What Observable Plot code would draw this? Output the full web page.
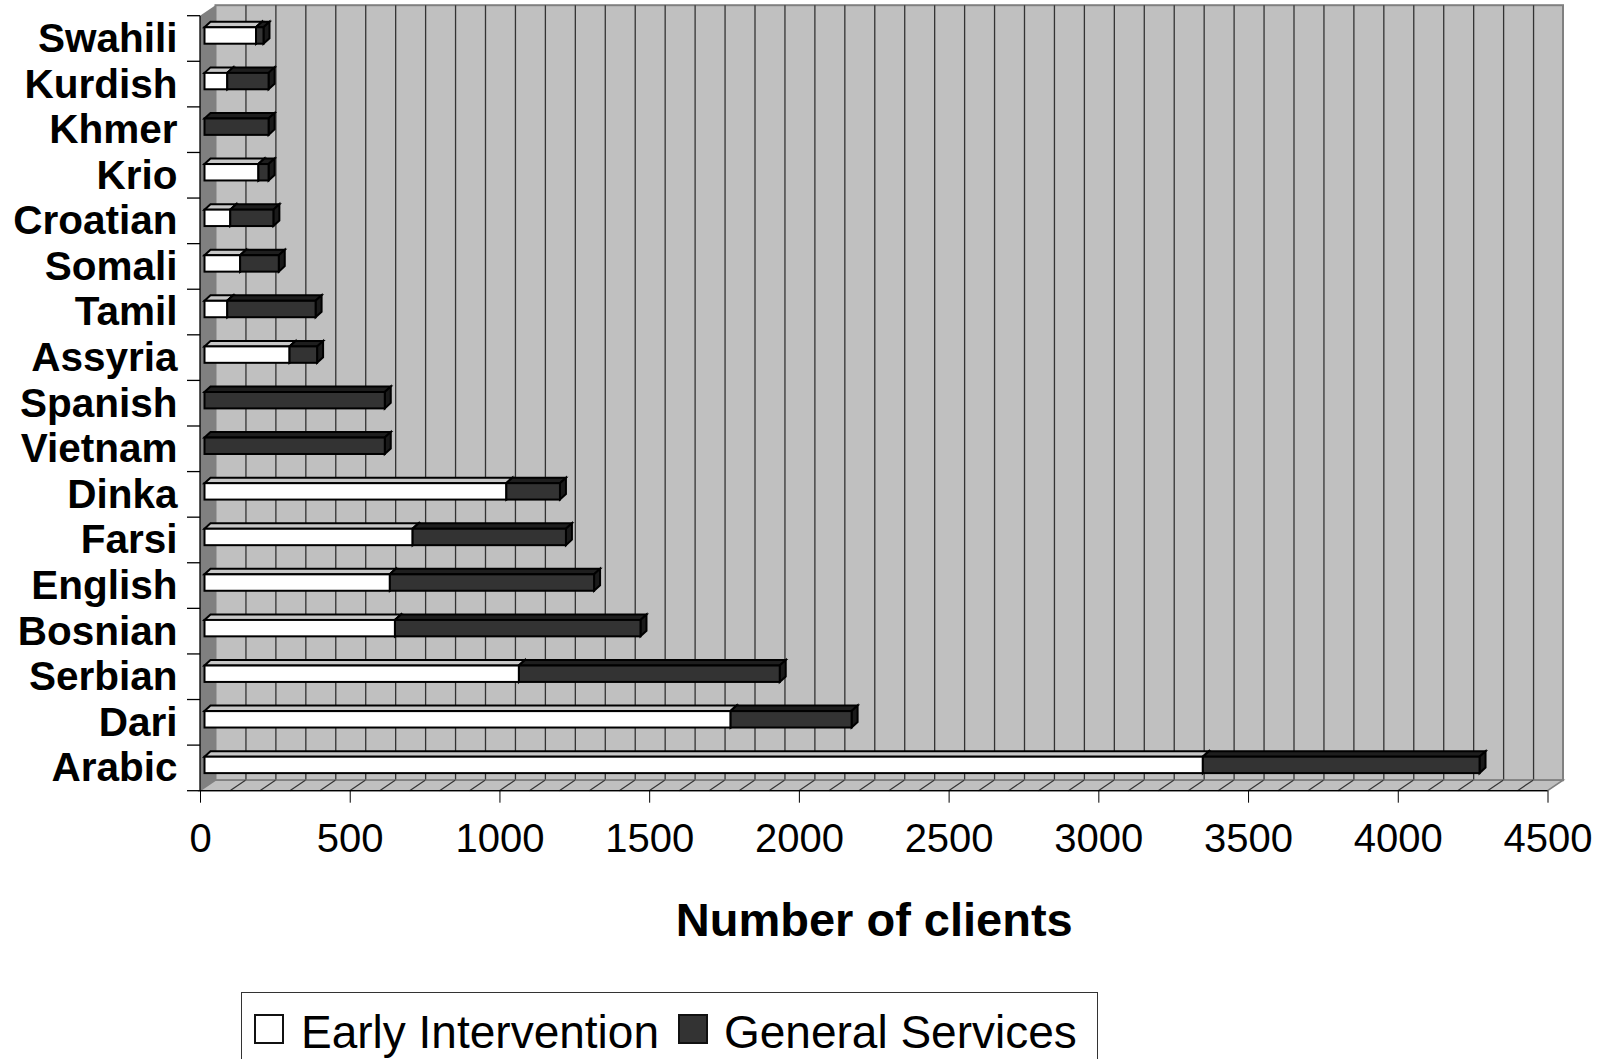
<!DOCTYPE html>
<html>
<head>
<meta charset="utf-8">
<script src="https://cdn.jsdelivr.net/npm/d3@7"></script>
<script src="https://cdn.jsdelivr.net/npm/@observablehq/plot@0.6"></script>
<style>
  html, body { margin: 0; padding: 0; overflow: hidden; background: #fff; }
  body { width: 1608px; height: 1059px; font-family: "Liberation Sans", Arial, sans-serif; }
  #chart svg { display: block; }
  #legend {
    margin-left: 241px; margin-top: 2px; width: 843px; height: 77px;
    border: 1.5px solid #333; display: flex; align-items: center;
    padding-left: 12px; box-sizing: content-box; font-size: 46px; color: #000;
    white-space: nowrap; line-height: 46px;
  }
  #legend .sw { display: inline-block; flex: none; width: 26px; height: 26px; border: 2px solid #111; position: relative; top: -3px; }
</style>
</head>
<body>
<div id="chart"></div>
<div id="legend"></div>
<script>
// ---------------- data ----------------
const categories = ["Swahili","Kurdish","Khmer","Krio","Croatian","Somali","Tamil","Assyria",
  "Spanish","Vietnam","Dinka","Farsi","English","Bosnian","Serbian","Dari","Arabic"];
const earlyIntervention = [172, 76, 0, 180, 86, 119, 76, 284, 0, 0, 1008, 695, 619, 636, 1050, 1757, 3334];
const generalServices   = [25, 138, 214, 34, 144, 129, 295, 92, 602, 602, 179, 512, 682, 820, 871, 404, 924];
const seriesNames  = ["Early Intervention", "General Services"];
const seriesColors = ["#ffffff", "#333333"];
const topColors    = ["#c8c8c8", "#1e1e1e"];
const sideColors   = ["#a0a0a0", "#1a1a1a"];
const xTicks = [0, 500, 1000, 1500, 2000, 2500, 3000, 3500, 4000, 4500];
const gridValues = d3.range(100, 4500, 100);
const xTitle = "Number of clients";

const data = categories.flatMap((c, i) => [
  {category: c, series: seriesNames[0], value: earlyIntervention[i]},
  {category: c, series: seriesNames[1], value: generalServices[i]}
]);

// ---------------- geometry / style ----------------
const W = 1608, H = 990;
const mL = 200, mR = 60.5, mT = 15.7, mB = H - 790.7;
const wallDX = 15.5, wallDY = -10.5;   // depth of the 3-D box
const barDX = 4.5, barDY = -3;         // bars sit slightly inside the box
const faceDX = 6, faceDY = -5.5;       // depth of each bar

function poly(g, pts, fill, stroke, sw) {
  g.append("polygon")
    .attr("points", pts.map(p => p.join(",")).join(" "))
    .attr("fill", fill)
    .attr("stroke", stroke || "none")
    .attr("stroke-width", sw || 0)
    .attr("stroke-linejoin", "miter");
}
function box(scales, dims) {
  const [d0, d1] = scales.x.domain();
  return {L: scales.x(d0), R: scales.x(d1), T: dims.marginTop, B: dims.height - dims.marginBottom};
}

function backWalls(index, scales, values, dims) {
  const g = d3.create("svg:g");
  const {L, R, T, B} = box(scales, dims);
  g.append("rect").attr("x", L + wallDX).attr("y", T + wallDY)
    .attr("width", R - L).attr("height", B - T)
    .attr("fill", "#c0c0c0").attr("stroke", "#808080").attr("stroke-width", 2);
  return g.node();
}
function sideWalls(index, scales, values, dims) {
  const g = d3.create("svg:g");
  const {L, R, T, B} = box(scales, dims);
  poly(g, [[L, T], [L + wallDX, T + wallDY], [L + wallDX, B + wallDY], [L, B]], "#808080");
  poly(g, [[L, B], [L + wallDX, B + wallDY], [R + wallDX, B + wallDY], [R, B]], "#c0c0c0", "#808080", 1.5);
  for (const v of gridValues) {
    g.append("line")
      .attr("x1", scales.x(v) + wallDX).attr("y1", B + wallDY)
      .attr("x2", scales.x(v)).attr("y2", B)
      .attr("stroke", "#333").attr("stroke-width", 1.2);
  }
  return g.node();
}
function barFaces(index, scales, values, dims) {
  const g = d3.create("svg:g");
  const y = scales.y, bw = y.bandwidth();
  categories.forEach((c, i) => {
    const top = y(c) + barDY, bot = top + bw;
    let cum = 0;
    [earlyIntervention[i], generalServices[i]].forEach((v, j) => {
      const xa = scales.x(cum) + barDX, xb = scales.x(cum + v) + barDX;
      cum += v;
      if (v <= 0) return;
      poly(g, [[xa, top], [xa + faceDX, top + faceDY], [xb + faceDX, top + faceDY], [xb, top]], topColors[j], "#000", 2);
      poly(g, [[xb, top], [xb + faceDX, top + faceDY], [xb + faceDX, bot + faceDY], [xb, bot]], sideColors[j], "#000", 2);
    });
  });
  return g.node();
}
function axisLines(index, scales, values, dims) {
  const g = d3.create("svg:g").attr("stroke", "#000").attr("stroke-width", 1.3);
  const {L, R, T, B} = box(scales, dims);
  g.append("line").attr("x1", L).attr("y1", T).attr("x2", L).attr("y2", B);
  g.append("line").attr("x1", L).attr("y1", B).attr("x2", R).attr("y2", B);
  const step = scales.y.step(), bw = scales.y.bandwidth();
  const bounds = categories.map(c => scales.y(c) - (step - bw) / 2).concat([B]);
  for (const yb of bounds) g.append("line").attr("x1", L - 13).attr("y1", yb).attr("x2", L).attr("y2", yb);
  return g.node();
}

const chart = Plot.plot({
  width: W, height: H,
  marginLeft: mL, marginRight: mR, marginTop: mT, marginBottom: mB,
  style: {fontFamily: "'Liberation Sans', Arial, sans-serif", color: "#000", background: "#fff", overflow: "visible"},
  x: {domain: [0, 4500], nice: false, label: null},
  y: {domain: categories, paddingInner: 0.64, paddingOuter: 0.32, round: false, label: null},
  color: {domain: seriesNames, range: seriesColors},
  marks: [
    backWalls,
    Plot.ruleX(gridValues, {stroke: "#333", strokeWidth: 1.3, dx: wallDX, dy: wallDY}),
    sideWalls,
    barFaces,
    Plot.barX(data, Plot.stackX({
      x: "value", y: "category", fill: "series",
      stroke: "#000", strokeWidth: 2, dx: barDX, dy: barDY
    })),
    axisLines,
    Plot.axisX({ticks: xTicks, tickSize: 12, tickPadding: 20, fontSize: 40, label: null, tickFormat: d => String(d)}),
    Plot.axisY({tickSize: 0, tickPadding: 23, fontSize: 40.5, fontWeight: "bold", label: null}),
    Plot.text([xTitle], {text: d => d, frameAnchor: "bottom", dy: 129.5, fontSize: 47, fontWeight: "bold", lineAnchor: "middle"})
  ]
});
document.getElementById("chart").appendChild(chart);

// legend
const legend = d3.select("#legend");
seriesNames.forEach((name, i) => {
  legend.append("span").attr("class", "sw")
    .style("background", seriesColors[i])
    .style("margin-left", i === 0 ? "0px" : "19px")
    .style("margin-right", i === 0 ? "17px" : "16px");
  legend.append("span").text(name);
});
</script>
</body>
</html>
